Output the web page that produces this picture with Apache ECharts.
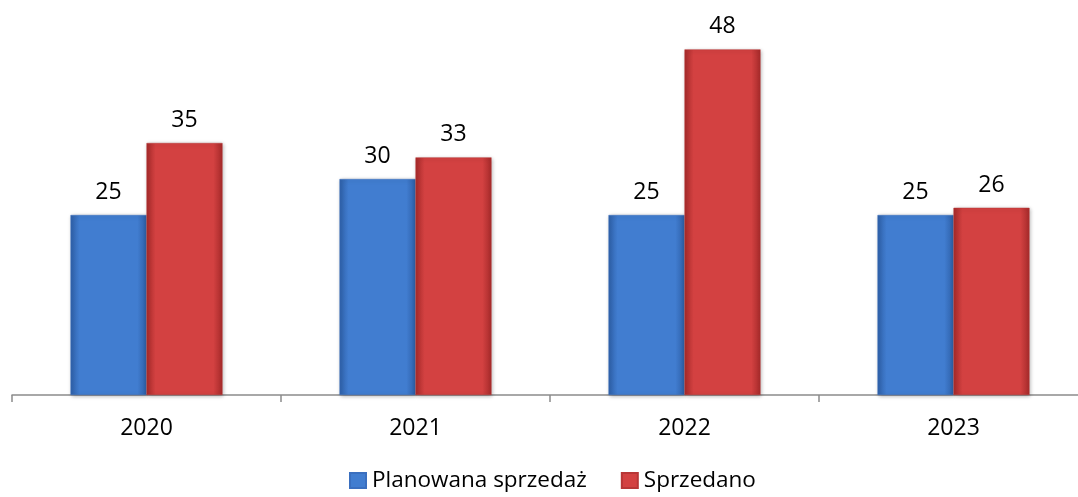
<!DOCTYPE html>
<html><head><meta charset="utf-8">
<script src="https://cdn.jsdelivr.net/npm/echarts@6/dist/echarts.min.js"></script>
<style>html,body{margin:0;padding:0;background:#fff}#c{width:1078px;height:497px}</style>
</head><body><div id="c"></div>
<script>
const categories = ['2020', '2021', '2022', '2023'];
const planned = [25, 30, 25, 25];
const sold = [35, 33, 48, 26];
const seriesNames = ['Planowana sprzedaż', 'Sprzedano'];

function grad(edge, mid) {
  return new echarts.graphic.LinearGradient(0, 0, 1, 0, [
    {offset: 0, color: edge}, {offset: 0.12, color: mid},
    {offset: 0.88, color: mid}, {offset: 1, color: edge}
  ]);
}
const font = '"Open Sans", "Noto Sans", sans-serif';
const chart = echarts.init(document.getElementById('c'));
chart.setOption({
  animation: false,
  grid: {left: 12, width: 1076, top: 35, bottom: 102, outerBoundsMode: 'none', containLabel: false},
  legend: {
    left: 344, bottom: 0, itemWidth: 16, itemHeight: 15, itemGap: 34, icon: 'rect',
    textStyle: {fontFamily: font, fontSize: 22.5, color: '#000', padding: [0, 0, 0, 1]}
  },
  xAxis: {
    type: 'category', data: categories,
    axisLine: {lineStyle: {color: '#8c8c8c', width: 1.5}},
    axisTick: {show: true, length: 7, lineStyle: {color: '#8c8c8c', width: 1.5}},
    axisLabel: {fontFamily: font, fontSize: 23, color: '#000', margin: 22}
  },
  yAxis: {type: 'value', min: 0, max: 50, show: false, splitLine: {show: false}},
  series: [
    {name: seriesNames[0], type: 'bar', data: planned, barWidth: 76, barGap: '0%',
     itemStyle: {color: grad('#2e60a8', '#417dd0'), borderColor: '#3a6fbf', borderWidth: 0.5,
       shadowColor: 'rgba(0,0,0,0.3)', shadowBlur: 4, shadowOffsetX: 1, shadowOffsetY: 1},
     label: {show: true, position: 'top', distance: 11, fontFamily: font, fontSize: 23, color: '#000'}},
    {name: seriesNames[1], type: 'bar', data: sold, barWidth: 76,
     itemStyle: {color: grad('#a52a2a', '#d34141'), borderColor: '#b83636', borderWidth: 0.5,
       shadowColor: 'rgba(0,0,0,0.3)', shadowBlur: 4, shadowOffsetX: 1, shadowOffsetY: 1},
     label: {show: true, position: 'top', distance: 11, fontFamily: font, fontSize: 23, color: '#000'}}
  ],
  color: ['#417dd0', '#d34141']
});
</script></body></html>
